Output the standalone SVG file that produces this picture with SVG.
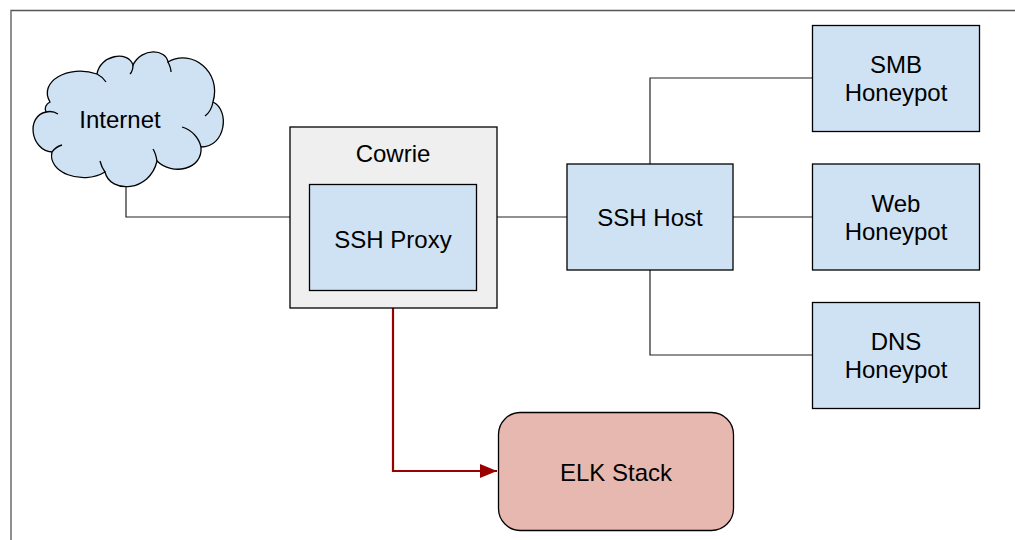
<svg xmlns="http://www.w3.org/2000/svg" width="1015" height="540" viewBox="0 0 1015 540">
  <defs>
    <style>
      .lbl { font-family: "Liberation Sans", Arial, sans-serif; font-size: 24px; fill: #000; text-anchor: middle; }
      .blue { fill: #cfe2f3; stroke: #000; stroke-width: 1.3; }
      .conn { fill: none; stroke: #222; stroke-width: 1.2; }
      .red { fill: none; stroke: #990000; stroke-width: 2.2; }
    </style>
    <marker id="arrowRed" markerUnits="userSpaceOnUse" markerWidth="18" markerHeight="14" refX="17" refY="7" orient="auto">
      <path d="M0,0 L17,7 L0,14 Z" fill="#990000"/>
    </marker>
  </defs>
  <rect width="1015" height="540" fill="#fff"/>
  <path d="M11,540 L11,10.5 L1015,10.5" fill="none" stroke="#555" stroke-width="1.3"/>

  <g id="connectors">
    <polyline class="conn" points="126,187 126,217 290,217"/>
    <line class="conn" x1="497" y1="217" x2="567" y2="217"/>
    <line class="conn" x1="733" y1="217" x2="812" y2="217"/>
    <polyline class="conn" points="650,164 650,78 812,78"/>
    <polyline class="conn" points="650,270 650,355 812,355"/>
    <polyline class="red" points="393,308 393,471 497,471" marker-end="url(#arrowRed)"/>
  </g>

  <g id="internet">
    <path class="blue" d="M50,102 C38,82 68,64 97,74 C100,55 128,50 133,65 C142,47 166,49 168,62 C192,48 222,72 213,102 C230,110 226,147 201,147 C203,170 172,176 157,161 C150,192 110,194 105,172 C82,186 47,172 52,152 C30,150 26,116 46,112 C44,108 46,104 50,102 Z"/>
    <path d="M182,127 C192,130 199,138 201,147 M157,161 C156,155 155,152 153,149 M105,172 C102,168 101,165 100,161 M52,152 C55,148 58,146 62,145 M46,112 C50,111 55,112 58,114 M97,74 C101,76 104,79 106,82 M133,65 C133,69 132,72 130,74 M168,62 C170,66 171,69 171,72 M213,102 C212,108 209,113 205,116" fill="none" stroke="#000" stroke-width="1.3"/>
    <text class="lbl" x="120" y="128">Internet</text>
  </g>

  <g id="cowrie">
    <rect x="290" y="127" width="207" height="181" fill="#efefef" stroke="#000" stroke-width="1.3"/>
    <text class="lbl" x="393" y="162">Cowrie</text>
  </g>

  <g id="ssh-proxy">
    <rect class="blue" x="309.5" y="184.5" width="167" height="106"/>
    <text class="lbl" x="393" y="248">SSH Proxy</text>
  </g>

  <g id="ssh-host">
    <rect class="blue" x="567" y="164" width="166" height="106"/>
    <text class="lbl" x="650" y="226">SSH Host</text>
  </g>

  <g id="smb-honeypot">
    <rect class="blue" x="812.5" y="25.5" width="167" height="106"/>
    <text class="lbl" x="896" y="73">SMB</text>
    <text class="lbl" x="896" y="101">Honeypot</text>
  </g>

  <g id="web-honeypot">
    <rect class="blue" x="812.5" y="164" width="167" height="106"/>
    <text class="lbl" x="896" y="212">Web</text>
    <text class="lbl" x="896" y="240">Honeypot</text>
  </g>

  <g id="dns-honeypot">
    <rect class="blue" x="812.5" y="302.5" width="167" height="106"/>
    <text class="lbl" x="896" y="350">DNS</text>
    <text class="lbl" x="896" y="378">Honeypot</text>
  </g>

  <g id="elk-stack">
    <rect x="498.5" y="412.5" width="235" height="118" rx="22" ry="22" fill="#e6b8af" stroke="#000" stroke-width="1.3"/>
    <text class="lbl" x="616" y="481">ELK Stack</text>
  </g>
</svg>
